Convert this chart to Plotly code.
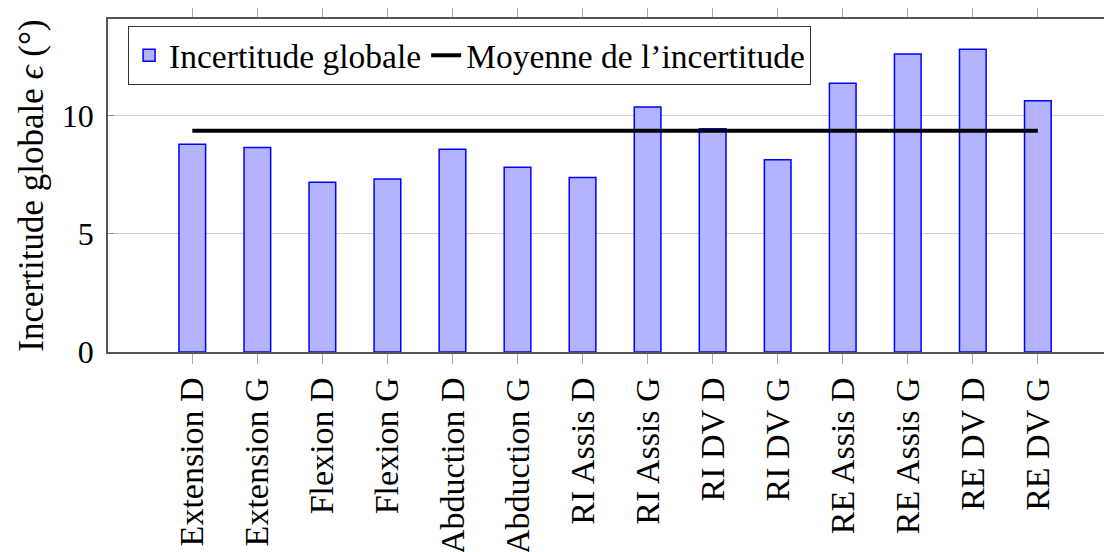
import plotly.graph_objects as go

categories = ["Extension D", "Extension G", "Flexion D", "Flexion G", "Abduction D",
              "Abduction G", "RI Assis D", "RI Assis G", "RI DV D", "RI DV G",
              "RE Assis D", "RE Assis G", "RE DV D", "RE DV G"]
incertitude = [8.79, 8.65, 7.18, 7.32, 8.58, 7.82, 7.38, 10.37, 9.45, 8.13,
               11.37, 12.61, 12.81, 10.63]
mean_value = sum(incertitude) / len(incertitude)
y_ticks = [0, 5, 10]

FONT = "Liberation Serif"

fig = go.Figure()
fig.add_trace(go.Bar(
    x=categories, y=incertitude, name="Incertitude globale",
    width=0.41,
    marker=dict(color="rgb(179,179,255)", line=dict(color="rgb(0,0,255)", width=1.5)),
))
fig.add_trace(go.Scatter(
    x=[categories[0], categories[-1]], y=[mean_value, mean_value],
    mode="lines", name="Moyenne de l’incertitude",
    line=dict(color="black", width=4),
))

# page body has an 8px default margin: margins compensate for it
fig.update_layout(
    width=1112, height=552,
    margin=dict(l=100, r=8, t=11, b=208),
    paper_bgcolor="white", plot_bgcolor="white",
    font=dict(family=FONT, size=33, color="black"),
    showlegend=True,
    legend=dict(
        orientation="h", x=0.02, y=0.979, xanchor="left", yanchor="top",
        bgcolor="white", bordercolor="#333", borderwidth=1,
        font=dict(family=FONT, size=33.5), itemwidth=30, tracegroupgap=0,
    ),
    xaxis=dict(
        type="category", range=[-1.296, 14.14], automargin=False,
        showline=True, linecolor="#555", linewidth=1.5, mirror="ticks",
        ticks="outside", ticklen=10, tickcolor="#aaa", tickwidth=1,
        tickangle=-90, showgrid=False, ticklabelstandoff=0,
        tickfont=dict(family=FONT, size=34),
    ),
    yaxis=dict(
        range=[0, 14.09], tickvals=y_ticks, ticktext=[str(v) for v in y_ticks],
        automargin=False,
        showline=True, linecolor="#555", linewidth=1.5, mirror=False,
        ticks="inside", ticklen=6, tickcolor="#888",
        showgrid=True, gridcolor="#d0d0d0", gridwidth=1, zeroline=False,
        ticklabelstandoff=6,
        tickfont=dict(family=FONT, size=32),
        title=dict(text="Incertitude globale <i>ϵ</i> (°)", font=dict(family=FONT, size=35), standoff=8),
    ),
)

fig.write_html("out.html")
